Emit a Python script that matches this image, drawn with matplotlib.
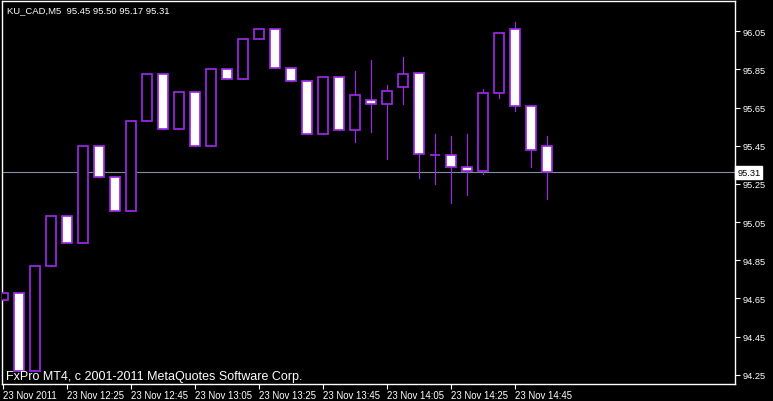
import numpy as np
import matplotlib.pyplot as plt
from matplotlib.patches import Rectangle

plt.rcParams['font.family'] = ['Liberation Sans', 'DejaVu Sans']

# KU_CAD M5 candles (open, high, low, close), one per 5 minutes
opens  = [94.64, 94.68, 94.27, 94.82, 95.08, 94.94, 95.45, 95.285, 95.11, 95.58,
          95.825, 95.54, 95.73, 95.45, 95.85, 95.80, 96.01, 96.06, 95.86, 95.79,
          95.51, 95.81, 95.535, 95.69, 95.67, 95.76, 95.83, 95.403, 95.40, 95.34,
          95.32, 95.725, 96.06, 95.66, 95.45]
highs  = [94.68, 94.68, 94.82, 95.08, 95.08, 95.45, 95.45, 95.285, 95.58, 95.825,
          95.825, 95.73, 95.73, 95.85, 95.85, 96.01, 96.06, 96.06, 95.86, 95.79,
          95.81, 95.81, 95.84, 95.90, 95.77, 95.915, 95.83, 95.51, 95.50, 95.51,
          95.75, 96.04, 96.10, 95.66, 95.50]
lows   = [94.64, 94.27, 94.27, 94.82, 94.94, 94.94, 95.285, 95.11, 95.11, 95.58,
          95.54, 95.54, 95.45, 95.45, 95.80, 95.80, 96.01, 95.86, 95.79, 95.51,
          95.51, 95.535, 95.47, 95.52, 95.38, 95.67, 95.28, 95.25, 95.15, 95.19,
          95.30, 95.70, 95.63, 95.34, 95.17]
closes = [94.68, 94.27, 94.82, 95.08, 94.94, 95.45, 95.285, 95.11, 95.58, 95.825,
          95.54, 95.73, 95.45, 95.85, 95.80, 96.01, 96.06, 95.86, 95.79, 95.51,
          95.81, 95.535, 95.715, 95.67, 95.735, 95.825, 95.405, 95.403, 95.34, 95.32,
          95.725, 96.04, 95.66, 95.43, 95.31]

time_ticks = [0, 4, 8, 12, 16, 20, 24, 28, 32]
time_labels = ["23 Nov 2011", "23 Nov 12:25", "23 Nov 12:45", "23 Nov 13:05",
               "23 Nov 13:25", "23 Nov 13:45", "23 Nov 14:05", "23 Nov 14:25",
               "23 Nov 14:45"]
price_ticks = [94.25, 94.45, 94.65, 94.85, 95.05, 95.25, 95.45, 95.65, 95.85, 96.05]
last_price = 95.31

candle_col = "#9b28e6"
W, H = 773, 402

fig = plt.figure(figsize=(W / 100, H / 100), dpi=100, facecolor="black")
ax = fig.add_axes([2.3 / W, (H - 385) / H, (735 - 2.3) / W, (385 - 2.3) / H])
ax.set_facecolor("black")

half = 0.31
for i in range(len(opens)):
    o, h, l, c = opens[i], highs[i], lows[i], closes[i]
    ax.plot([i, i], [l, h], color=candle_col, lw=0.85, zorder=2)
    fill = "white" if c < o else "black"
    ax.add_patch(Rectangle((i - half, min(o, c)), 2 * half, abs(c - o),
                           facecolor=fill, edgecolor=candle_col, lw=1.25, zorder=3))

# current price line
ax.axhline(last_price, color="#8090a8", lw=0.8, zorder=1)

ax.set_xlim(-0.0625, 45.73)
ax.set_ylim(94.2015, 96.207)

for s in ax.spines.values():
    s.set_color("white")
    s.set_linewidth(1.0)

ax.yaxis.tick_right()
ax.set_yticks(price_ticks)
ax.set_yticklabels([f"{p:.2f}" for p in price_ticks])
ax.set_xticks(time_ticks)
ax.set_xticklabels(time_labels)
ax.tick_params(axis="both", colors="white", length=3.5, width=0.8,
               direction="out")
ax.tick_params(axis="x", pad=1, labelsize=6.9)
ax.tick_params(axis="y", pad=2, labelsize=6.7)
for t in ax.get_xticklabels():
    t.set_horizontalalignment("left")

# price label on the right axis
ax.text(1.003, last_price, f"{last_price:.2f}", transform=ax.get_yaxis_transform(),
        ha="left", va="center", fontsize=6.7, color="black", zorder=10,
        bbox=dict(boxstyle="square,pad=0.2", facecolor="white", edgecolor="white"),
        clip_on=False)

fig.text(7 / W, 1 - 11 / H, "KU_CAD,M5  95.45 95.50 95.17 95.31", color="white",
         fontsize=6.8, ha="left", va="center")
ax.text(0.005, 0.004, "FxPro MT4, c 2001-2011 MetaQuotes Software Corp.",
        transform=ax.transAxes, color="white", fontsize=9.0, ha="left", va="bottom")

fig.savefig("out.png", dpi=100, facecolor="black")
